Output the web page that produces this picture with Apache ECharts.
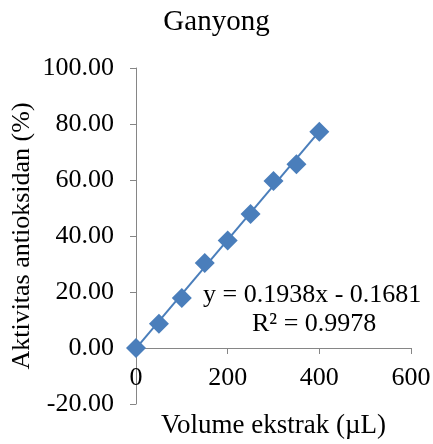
<!DOCTYPE html>
<html>
<head>
<meta charset="utf-8">
<script src="https://cdn.jsdelivr.net/npm/echarts@6/dist/echarts.min.js"></script>
<style>
  html, body { margin: 0; padding: 0; background: #ffffff; }
  #chart { width: 433px; height: 444px; }
</style>
</head>
<body>
<div id="chart"></div>
<script>
// Extract volume (µL) and measured antioxidant activity (%)
const volumes = [0, 50, 100, 150, 200, 250, 300, 350, 400];
const activity = [0, 8.7, 17.9, 30.4, 38.4, 47.9, 59.6, 65.6, 77.2];

// Linear fit reported on the chart
const slope = 0.1938;
const intercept = -0.1681;
const rSquared = 0.9978;

const xTicks = { min: 0, max: 600, interval: 200 };
const yTicks = { min: -20, max: 100, interval: 20 };

const FONT = '"Liberation Serif", "Times New Roman", serif';
const BLUE = '#4A7EBB';
const AXIS = '#868686';

const points = volumes.map((v, i) => [v, activity[i]]);
const xFirst = volumes[0];
const xLast = volumes[volumes.length - 1];
const fitLine = [
  [xFirst, slope * xFirst + intercept],
  [xLast, slope * xLast + intercept]
];

const chart = echarts.init(document.getElementById('chart'));
chart.setOption({
  animation: false,
  backgroundColor: '#ffffff',
  title: {
    text: 'Ganyong',
    left: 'center',
    top: 3,
    textStyle: { fontFamily: FONT, fontSize: 29, fontWeight: 'normal', color: '#000' }
  },
  grid: { left: 136, right: 22, top: 68, bottom: 40, containLabel: false, outerBoundsMode: 'none' },
  xAxis: {
    type: 'value',
    min: xTicks.min,
    max: xTicks.max,
    interval: xTicks.interval,
    name: 'Volume ekstrak (µL)',
    nameLocation: 'middle',
    nameGap: 8,
    nameMoveOverlap: false,
    nameTextStyle: { fontFamily: FONT, fontSize: 27, color: '#000' },
    axisLine: { onZero: true, lineStyle: { color: AXIS, width: 1 } },
    axisTick: { show: true, inside: false, length: 6, lineStyle: { color: AXIS } },
    axisLabel: { margin: -39, fontFamily: FONT, fontSize: 26, color: '#000' },
    splitLine: { show: false }
  },
  yAxis: {
    type: 'value',
    min: yTicks.min,
    max: yTicks.max,
    interval: yTicks.interval,
    name: 'Aktivitas antioksidan (%)',
    nameLocation: 'middle',
    nameGap: 101,
    nameMoveOverlap: false,
    nameTextStyle: { fontFamily: FONT, fontSize: 26, color: '#000' },
    axisLine: { show: true, onZero: false, lineStyle: { color: AXIS, width: 1 } },
    axisTick: { show: true, inside: false, length: 6, lineStyle: { color: AXIS } },
    axisLabel: {
      margin: 22,
      fontFamily: FONT,
      fontSize: 26,
      color: '#000',
      formatter: v => v.toFixed(2)
    },
    splitLine: { show: false }
  },
  graphic: [
    {
      type: 'text',
      left: 203,
      top: 282,
      style: {
        text: 'y = ' + slope.toFixed(4) + 'x - ' + Math.abs(intercept).toFixed(4),
        font: '26px ' + FONT,
        fill: '#000'
      }
    },
    {
      type: 'text',
      left: 252,
      top: 311,
      style: {
        text: 'R² = ' + rSquared.toFixed(4),
        font: '26px ' + FONT,
        fill: '#000'
      }
    }
  ],
  series: [
    {
      type: 'line',
      data: fitLine,
      symbol: 'none',
      lineStyle: { color: BLUE, width: 2 },
      z: 2
    },
    {
      type: 'scatter',
      data: points,
      symbol: 'diamond',
      symbolSize: 20,
      itemStyle: { color: BLUE, opacity: 1 },
      z: 3
    }
  ]
});
</script>
</body>
</html>
